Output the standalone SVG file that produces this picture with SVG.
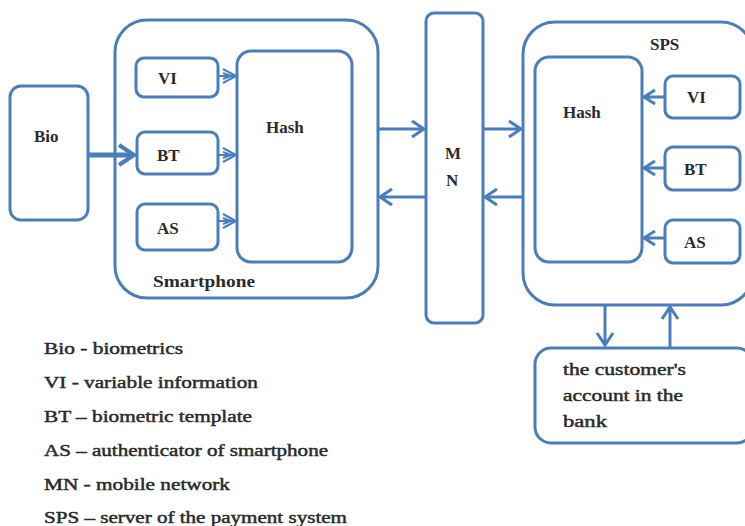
<svg xmlns="http://www.w3.org/2000/svg" width="745" height="526" viewBox="0 0 745 526">
<style>
.box{fill:#fff;stroke:#4a7ebb;stroke-width:3}
.ln{fill:none;stroke:#4a7ebb;stroke-width:3;stroke-linejoin:miter}
.thin{fill:none;stroke:#4a7ebb;stroke-width:2}
text{font-family:'Liberation Serif','DejaVu Serif',serif;font-size:17px;fill:#2a2a2a;font-weight:bold}
.lg{font-weight:normal;font-size:16px;stroke:#2a2a2a;stroke-width:0.45}
</style>
<rect width="745" height="526" fill="#fff"/>
<g id="smartphone"><rect class="box" x="115" y="20" width="263" height="278" rx="32"/><text x="153" y="287" textLength="102" lengthAdjust="spacingAndGlyphs">Smartphone</text></g>
<g id="sps"><rect class="box" x="523" y="22" width="230" height="283" rx="32"/><text x="650" y="50">SPS</text></g>
<g id="bio"><rect class="box" x="10" y="86" width="78" height="134" rx="11"/><text x="34" y="142">Bio</text></g>
<g id="vi1"><rect class="box" x="136" y="58" width="82" height="39" rx="8"/><text x="158" y="84">VI</text></g>
<g id="bt1"><rect class="box" x="137" y="132" width="81" height="42" rx="8"/><text x="157" y="161">BT</text></g>
<g id="as1"><rect class="box" x="137" y="204" width="81" height="46" rx="8"/><text x="157" y="234">AS</text></g>
<g id="hash1"><rect class="box" x="237" y="51" width="115" height="211" rx="14"/><text x="266" y="133">Hash</text></g>
<g id="mn"><rect class="box" x="426" y="13" width="57" height="310" rx="8"/><text x="445" y="159">M</text><text x="446" y="186">N</text></g>
<g id="hash2"><rect class="box" x="535" y="57" width="107" height="205" rx="14"/><text x="563" y="118">Hash</text></g>
<g id="vi2"><rect class="box" x="665" y="76" width="75" height="42" rx="8"/><text x="687" y="103">VI</text></g>
<g id="bt2"><rect class="box" x="665" y="147" width="75" height="43" rx="8"/><text x="684" y="175">BT</text></g>
<g id="as2"><rect class="box" x="665" y="220" width="75" height="43" rx="8"/><text x="684" y="248">AS</text></g>
<g id="bank"><rect class="box" x="535" y="348" width="218" height="95" rx="16"/>
<text class="lg" x="563" y="375" textLength="123" lengthAdjust="spacingAndGlyphs">the customer's</text><text class="lg" x="563" y="401" textLength="120" lengthAdjust="spacingAndGlyphs">account in the</text><text class="lg" x="563" y="427" textLength="44" lengthAdjust="spacingAndGlyphs">bank</text></g>
<g id="connectors">
<path class="ln" d="M88 155H132" style="stroke-width:5"/>
<path class="ln" d="M119 145L134 155L119 165" style="stroke-width:4"/>
<path class="thin" d="M218 76H236M223 69L236 76L223 83M223 73L231 76L223 79"/>
<path class="thin" d="M218 155H236M223 148L236 155L223 162M223 152L231 155L223 158"/>
<path class="thin" d="M218 221H236M223 214L236 221L223 228M223 218L231 221L223 224"/>
<path class="ln" d="M378 129H424M412 121L424 129L412 137"/>
<path class="ln" d="M426 197H380M392 189L380 197L392 205"/>
<path class="ln" d="M483 129H521M509 121L521 129L509 137"/>
<path class="ln" d="M523 197H485M497 189L485 197L497 205"/>
<path class="ln" d="M665 97H644M655 90L644 97L655 104"/>
<path class="ln" d="M665 168H644M655 161L644 168L655 175"/>
<path class="ln" d="M665 238H644M655 231L644 238L655 245"/>
<path class="ln" d="M605 305V345M597 333L605 345L613 333"/>
<path class="ln" d="M670 348V308M662 319L670 307L678 319"/>
</g>
<g id="legend">
<text class="lg" x="44" y="354" textLength="139" lengthAdjust="spacingAndGlyphs">Bio - biometrics</text>
<text class="lg" x="44" y="388" textLength="214" lengthAdjust="spacingAndGlyphs">VI - variable information</text>
<text class="lg" x="44" y="422" textLength="208" lengthAdjust="spacingAndGlyphs">BT – biometric template</text>
<text class="lg" x="44" y="456" textLength="284" lengthAdjust="spacingAndGlyphs">AS – authenticator of smartphone</text>
<text class="lg" x="44" y="490" textLength="186" lengthAdjust="spacingAndGlyphs">MN - mobile network</text>
<text class="lg" x="44" y="523" textLength="303" lengthAdjust="spacingAndGlyphs">SPS – server of the payment system</text>
</g>
</svg>
